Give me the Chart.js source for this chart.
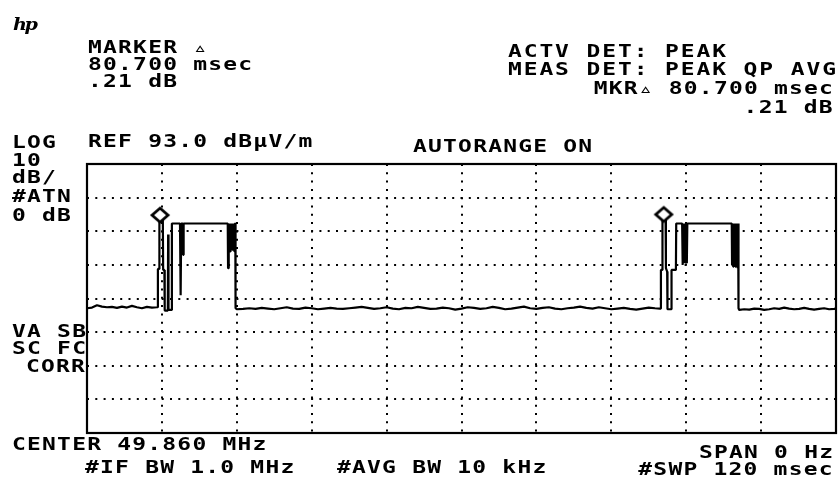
<!DOCTYPE html>
<html>
<head>
<meta charset="utf-8">
<script src="https://cdn.jsdelivr.net/npm/chart.js@4.4.0/dist/chart.umd.min.js"></script>
<style>
  html, body { margin: 0; padding: 0; background: #fff; overflow: hidden; }
  #wrap { position: relative; width: 838px; height: 480px; background: #fff; }
  #c { position: absolute; left: 0; top: 0; }
  .t { position: absolute; font-family: "DejaVu Sans Mono", monospace; font-weight: bold;
       font-size: 17px; line-height: 17px; letter-spacing: 0.9px; white-space: pre; color: #000;
       transform: scaleX(1.35); transform-origin: left top; }
  .r { transform-origin: right top; text-align: right; }
  .w { letter-spacing: 1.4px; }
  .logo { position: absolute; left: 13px; top: 17px; font-family: "DejaVu Serif", serif;
          font-style: italic; font-weight: bold; font-size: 16px; line-height: 16px; letter-spacing: -2px;
          transform: scaleX(1.2); transform-origin: left top; }
</style>
</head>
<body>
<div id="wrap">
  <canvas id="c" width="838" height="480"></canvas>
  <div class="logo">hp</div>
  <div class="t" style="left:88px;top:38.6px">MARKER ▵</div>
  <div class="t" style="left:88px;top:55.6px">80.700 msec</div>
  <div class="t" style="left:88px;top:72.6px">.21 dB</div>
  <div class="t w" style="left:508px;top:42.6px">ACTV DET: PEAK</div>
  <div class="t w" style="left:508px;top:60.6px">MEAS DET: PEAK QP AVG</div>
  <div class="t r" style="right:4px;top:79.6px">MKR▵ 80.700 msec</div>
  <div class="t r" style="right:4px;top:98.6px">.21 dB</div>
  <div class="t" style="left:12px;top:133.6px">LOG</div>
  <div class="t" style="left:88px;top:132.6px">REF 93.0 dBμV/m</div>
  <div class="t" style="left:413px;top:137.6px">AUTORANGE ON</div>
  <div class="t" style="left:12px;top:151.6px">10</div>
  <div class="t" style="left:12px;top:168.6px">dB/</div>
  <div class="t" style="left:12px;top:187.6px">#ATN</div>
  <div class="t" style="left:12px;top:206.6px">0 dB</div>
  <div class="t" style="left:12px;top:322.6px">VA SB</div>
  <div class="t" style="left:12px;top:339.6px">SC FC</div>
  <div class="t" style="left:26px;top:357.6px">CORR</div>
  <div class="t" style="left:12px;top:435.6px">CENTER 49.860 MHz</div>
  <div class="t" style="left:85px;top:458.6px">#IF BW 1.0 MHz</div>
  <div class="t" style="left:337px;top:458.6px">#AVG BW 10 kHz</div>
  <div class="t r" style="right:4px;top:443.6px">SPAN 0 Hz</div>
  <div class="t r" style="right:4px;top:460.6px">#SWP 120 msec</div>
</div>
<script>
// ---- Data (time in msec, level in dBμV/m) ----
const xGridMs = [0, 12, 24, 36, 48, 60, 72, 84, 96, 108, 120];
const yGridDb = [13, 23, 33, 43, 53, 63, 73, 83, 93];

const leadTimes = [0, 0.8, 1.6, 2.4, 3.2, 4.0, 4.8, 5.6, 6.4, 7.2, 8.0, 8.8, 9.6, 10.4, 11.2];
const leadDb    = [50.1, 50.3, 51.0, 50.6, 50.4, 50.5, 50.2, 50.6, 50.3, 50.8, 50.4, 50.1, 50.5, 50.3, 50.4];

const burst1Times = [11.30, 11.36, 11.55, 11.60, 12.15, 12.20, 12.40, 12.45, 12.95, 13.00, 13.06, 13.55, 13.60,
  14.90, 14.95, 15.05, 15.10, 15.35, 15.40, 15.48, 22.55, 22.60, 22.66, 22.75, 22.82, 22.92, 23.00, 23.10,
  23.18, 23.28, 23.36, 23.46, 23.54, 23.62, 23.70, 23.76, 23.80];
const burst1Db = [50.4, 61.8, 61.8, 76.3, 76.3, 61.5, 61.5, 49.4, 49.4, 72.0, 49.6, 49.6, 75.3,
  75.3, 54.0, 54.0, 75.3, 75.3, 66.0, 75.3, 75.3, 62.0, 75.3, 68.0, 75.3, 67.0, 75.3, 68.5,
  75.3, 67.5, 75.3, 68.0, 75.3, 67.0, 75.3, 75.3, 50.2];

const midTimes = [24, 25, 26, 27, 28, 29, 30, 31, 32, 33, 34, 35, 36, 37, 38, 39, 40, 41, 42, 43, 44, 45, 46, 47,
  48, 49, 50, 51, 52, 53, 54, 55, 56, 57, 58, 59, 60, 61, 62, 63, 64, 65, 66, 67, 68, 69, 70, 71, 72, 73, 74, 75,
  76, 77, 78, 79, 80, 81, 82, 83, 84, 85, 86, 87, 88, 89, 90, 91, 91.8];
const midDb = [49.8, 49.9, 50.1, 49.9, 50.2, 50.0, 49.8, 50.1, 50.4, 50.0, 49.9, 50.3, 50.1, 49.8, 50.0, 50.2,
  50.0, 49.9, 50.1, 50.3, 50.5, 50.2, 49.9, 50.1, 50.4, 50.0, 49.8, 50.2, 50.1, 50.5, 50.2, 49.9, 50.0, 50.3,
  50.1, 49.7, 50.0, 50.4, 50.2, 49.9, 50.1, 50.5, 50.2, 49.8, 50.0, 50.3, 50.6, 50.1, 49.9, 50.2, 50.4, 50.0,
  49.8, 50.1, 50.3, 50.6, 50.2, 50.0, 50.4, 50.1, 49.8, 50.0, 50.2, 49.9, 49.7, 50.0, 50.3, 50.1, 50.0];

const burst2Times = [91.90, 91.95, 92.15, 92.20, 92.70, 92.75, 92.95, 93.00, 93.60, 93.65, 94.35, 94.40,
  95.35, 95.40, 95.48, 95.58, 95.66, 95.76, 95.84, 95.94, 96.02, 96.10, 96.18, 103.30, 103.35, 103.42,
  103.52, 103.60, 103.70, 103.78, 103.88, 103.96, 104.06, 104.14, 104.24, 104.32, 104.36, 104.40];
const burst2Db = [50.0, 61.5, 61.5, 76.5, 76.5, 62.0, 61.0, 49.8, 49.8, 61.5, 61.5, 75.3,
  75.3, 63.0, 75.3, 64.0, 75.3, 63.5, 75.3, 64.5, 75.3, 63.5, 75.3, 75.3, 63.0, 75.3,
  62.5, 75.3, 64.0, 75.3, 62.5, 75.3, 63.5, 75.3, 62.0, 75.3, 75.3, 50.1];

const tailTimes = [104.5, 105.3, 106.1, 106.9, 107.7, 108.5, 109.3, 110.1, 110.9, 111.7, 112.5, 113.3, 114.1,
  114.9, 115.7, 116.5, 117.3, 118.1, 118.9, 119.7, 120];
const tailDb = [49.6, 49.8, 49.7, 50.0, 49.9, 49.6, 49.8, 50.1, 49.9, 50.3, 50.0, 49.8, 49.9,
  50.2, 49.9, 49.7, 49.9, 50.1, 49.8, 49.9, 50.0];

const markerTimes = [11.7, 92.4];
const markerDb = [76.3, 76.51];

// ---- Build the trace ----
const segs = [[leadTimes, leadDb], [burst1Times, burst1Db], [midTimes, midDb],
              [burst2Times, burst2Db], [tailTimes, tailDb]];
const trace = [];
segs.forEach(([t, v]) => t.forEach((x, i) => trace.push({x: x, y: v[i]})));
const markers = markerTimes.map((x, i) => ({x: x, y: markerDb[i]}));

// Marker symbol: diamond sitting just above the trace point
const mk = document.createElement('canvas');
mk.width = 22; mk.height = 30;
(function () {
  const g = mk.getContext('2d');
  const cx = 11, cy = 10, hw = 8, hh = 7;
  g.beginPath();
  g.moveTo(cx, cy - hh); g.lineTo(cx + hw, cy); g.lineTo(cx, cy + hh); g.lineTo(cx - hw, cy); g.closePath();
  g.fillStyle = '#fff'; g.fill();
  g.lineWidth = 2.8; g.strokeStyle = '#000'; g.lineJoin = 'miter'; g.stroke();
})();

const framePlugin = {
  id: 'frame',
  afterDraw(chart) {
    const a = chart.chartArea, ctx = chart.ctx;
    ctx.save();
    ctx.strokeStyle = '#000';
    ctx.lineWidth = 2.2;
    ctx.strokeRect(a.left, a.top, a.right - a.left, a.bottom - a.top);
    ctx.restore();
  }
};

new Chart(document.getElementById('c'), {
  type: 'scatter',
  data: {
    datasets: [
      { label: 'Marker', data: markers, showLine: false, pointStyle: mk, pointRadius: 10, pointHoverRadius: 10 },
      { label: 'Trace', data: trace, showLine: true, borderColor: '#000', borderWidth: 2.2, pointRadius: 0,
        tension: 0, borderJoinStyle: 'bevel', fill: false }
    ]
  },
  options: {
    responsive: false,
    devicePixelRatio: 1,
    animation: false,
    events: [],
    layout: { autoPadding: false, padding: { left: 87, top: 164, right: 2, bottom: 47 } },
    plugins: { legend: { display: false }, tooltip: { enabled: false } },
    scales: {
      x: {
        type: 'linear', min: 0, max: 120,
        afterBuildTicks: s => { s.ticks = xGridMs.map(v => ({value: v})); },
        ticks: { display: false },
        grid: { color: '#000', lineWidth: 2, drawTicks: false },
        border: { display: false, dash: [2, 6.3] }
      },
      y: {
        type: 'linear', min: 13, max: 93,
        afterBuildTicks: s => { s.ticks = yGridDb.map(v => ({value: v})); },
        ticks: { display: false },
        grid: { color: '#000', lineWidth: 2, drawTicks: false },
        border: { display: false, dash: [2, 6.3] }
      }
    }
  },
  plugins: [framePlugin]
});
</script>
</body>
</html>
